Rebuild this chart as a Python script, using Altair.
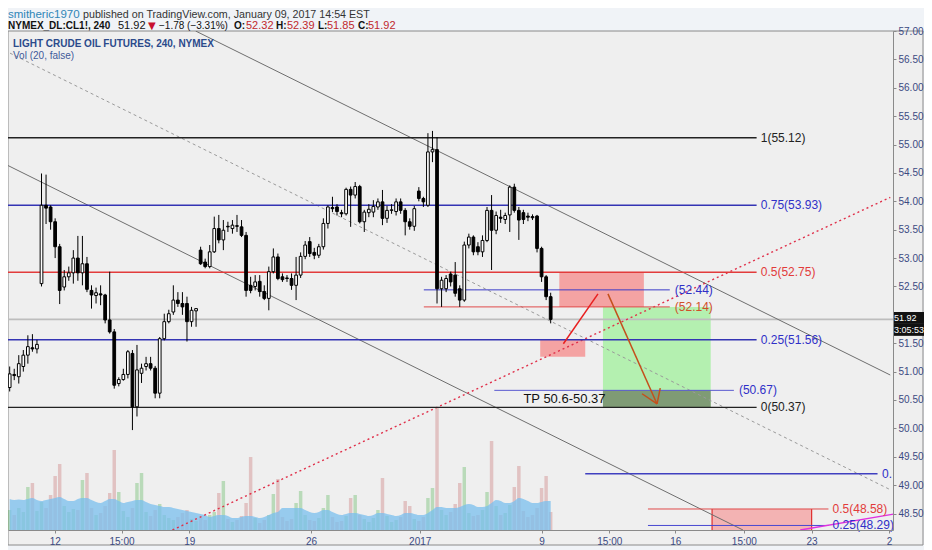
import altair as alt
import pandas as pd

# ---------------- data ----------------
opens = [50.72, 50.95, 50.91, 51.09, 51.29, 51.42, 51.40, 52.55, 53.93, 53.90,
         53.64, 53.20, 52.49, 52.67, 52.74, 53.00, 52.74, 52.90, 52.43, 52.34,
         52.37, 52.35, 51.91, 51.70, 50.79, 50.86, 50.95, 51.32, 50.38, 50.97,
         51.09, 51.14, 51.06, 50.62, 51.58, 51.88, 52.05, 52.26, 52.20, 52.20,
         51.88, 52.07, 53.14, 52.93, 52.85, 53.11, 53.52, 53.32, 53.56, 53.52,
         53.57, 53.55, 53.40, 52.52, 52.50, 52.59, 52.41, 52.29, 52.76, 53.02,
         52.67, 52.65, 52.64, 52.52, 52.70, 53.03, 53.29, 53.10, 53.05, 53.20,
         53.61, 53.89, 53.90, 53.80, 53.78, 54.21, 54.11, 54.26, 53.64, 53.80,
         53.81, 53.90, 53.99, 53.70, 53.84, 53.82, 53.99, 53.84, 53.64, 53.56,
         54.18, 54.05, 53.93, 54.87, 54.91, 52.46, 52.46, 52.72, 52.70, 52.46,
         52.26, 53.23, 53.37, 53.20, 53.11, 53.31, 53.84, 53.49, 53.72, 53.68,
         53.76, 54.25, 53.84, 53.80, 53.74, 53.73, 53.74, 53.17, 52.67, 52.32]
highs = [51.09, 51.05, 51.29, 51.38, 51.64, 51.66, 51.56, 54.49, 54.47, 53.93,
         53.70, 53.25, 52.79, 52.85, 53.14, 53.39, 53.39, 53.02, 52.52, 52.48,
         52.52, 52.37, 52.76, 51.75, 50.90, 51.05, 51.38, 51.38, 51.47, 51.14,
         51.26, 51.26, 51.10, 51.61, 52.02, 52.09, 52.52, 52.40, 52.40, 52.32,
         52.14, 52.11, 53.20, 52.99, 53.23, 53.73, 53.76, 53.67, 53.64, 53.67,
         53.76, 53.67, 53.46, 52.67, 52.70, 52.70, 52.52, 52.85, 53.17, 53.08,
         52.73, 52.70, 52.73, 53.02, 53.10, 53.30, 53.37, 53.18, 53.25, 53.70,
         53.93, 54.08, 53.95, 53.85, 54.24, 54.26, 54.34, 54.29, 53.85, 53.95,
         54.02, 54.05, 54.20, 53.92, 53.95, 54.05, 54.05, 53.88, 53.70, 53.92,
         54.25, 54.08, 55.20, 55.24, 55.13, 52.67, 52.70, 52.76, 52.93, 52.52,
         53.29, 53.43, 53.40, 53.28, 53.40, 53.90, 54.11, 53.82, 53.85, 53.80,
         54.28, 54.31, 53.90, 53.85, 53.80, 53.77, 53.76, 53.20, 52.70, 52.39]
lows = [50.65, 50.85, 50.79, 51.00, 51.14, 51.35, 51.32, 52.50, 53.60, 53.50,
        53.00, 52.19, 52.43, 52.60, 52.55, 52.60, 52.52, 52.40, 52.11, 52.20,
        52.17, 51.85, 51.67, 50.70, 50.74, 50.84, 50.88, 49.97, 50.21, 50.80,
        51.02, 51.02, 50.53, 50.53, 51.55, 51.85, 52.00, 52.14, 52.00, 51.53,
        51.79, 51.79, 52.88, 52.82, 52.82, 53.09, 53.26, 53.14, 53.46, 53.43,
        53.46, 53.37, 52.32, 52.38, 52.43, 52.32, 52.26, 52.08, 52.73, 52.61,
        52.58, 52.58, 52.44, 52.26, 52.65, 52.98, 53.02, 52.98, 53.00, 53.15,
        53.52, 53.81, 53.75, 53.72, 53.75, 53.55, 54.05, 53.61, 53.46, 53.72,
        53.72, 53.85, 53.58, 53.62, 53.78, 53.75, 53.78, 53.40, 53.50, 53.48,
        54.00, 53.90, 53.90, 54.69, 52.20, 52.14, 52.40, 52.50, 52.32, 52.14,
        52.23, 53.17, 53.05, 53.05, 53.02, 53.28, 52.79, 53.42, 53.62, 53.60,
        53.46, 53.80, 53.32, 53.60, 53.65, 53.67, 53.10, 52.58, 52.26, 51.85]
closes = [50.96, 50.93, 51.14, 51.29, 51.44, 51.40, 51.48, 53.93, 53.88, 53.64,
          53.20, 52.43, 52.67, 52.74, 53.00, 52.74, 52.90, 52.45, 52.35, 52.39,
          52.35, 51.91, 51.70, 50.76, 50.86, 50.95, 51.35, 50.38, 51.03, 51.06,
          51.14, 51.06, 50.62, 51.58, 51.88, 52.02, 52.26, 52.20, 52.14, 51.88,
          52.08, 52.11, 52.90, 52.85, 53.11, 53.52, 53.32, 53.49, 53.55, 53.58,
          53.56, 53.40, 52.43, 52.43, 52.58, 52.41, 52.29, 52.76, 53.02, 52.64,
          52.62, 52.64, 52.52, 52.70, 53.03, 53.23, 53.08, 53.05, 53.20, 53.61,
          53.90, 53.87, 53.82, 53.78, 54.21, 54.11, 54.26, 53.64, 53.81, 53.86,
          53.91, 53.99, 53.70, 53.84, 53.85, 53.99, 53.84, 53.64, 53.56, 53.87,
          54.05, 53.99, 54.87, 54.91, 52.46, 52.61, 52.64, 52.58, 52.38, 52.26,
          53.23, 53.37, 53.11, 53.11, 53.31, 53.84, 53.49, 53.75, 53.70, 53.75,
          54.25, 53.84, 53.67, 53.68, 53.72, 53.71, 53.17, 52.67, 52.32, 51.92]
volumes = [40, 30, 44, 36, 86, 94, 38, 56, 44, 70,
           108, 132, 48, 36, 42, 40, 100, 114, 44, 30,
           34, 48, 74, 160, 76, 38, 26, 44, 94, 114,
           36, 28, 40, 52, 30, 24, 20, 26, 34, 40,
           22, 18, 24, 20, 30, 36, 74, 98, 22, 16,
           20, 28, 54, 146, 24, 14, 20, 30, 72, 102,
           26, 18, 22, 54, 78, 30, 20, 18, 24, 44,
           70, 26, 16, 18, 28, 64, 70, 30, 22, 16,
           24, 40, 104, 28, 16, 20, 26, 58, 48, 22,
           18, 26, 64, 84, 246, 40, 30, 36, 52, 94,
           126, 34, 28, 30, 40, 76, 178, 48, 30, 34,
           50, 86, 128, 38, 26, 30, 44, 84, 108, 36]
vol_ma = [62, 60, 61, 60, 62, 64, 60, 58, 60, 62,
          64, 66, 62, 58, 58, 62, 64, 64, 60, 56,
          54, 58, 62, 62, 58, 54, 56, 58, 60, 60,
          56, 52, 50, 48, 46, 46, 44, 42, 40, 38,
          36, 34, 32, 30, 26, 28, 30, 30, 28, 24,
          24, 26, 28, 28, 26, 24, 26, 30, 34, 36,
          44, 44, 44, 44, 44, 40, 36, 34, 36, 40,
          40, 36, 32, 30, 32, 34, 34, 32, 30, 28,
          30, 34, 34, 32, 30, 28, 30, 34, 34, 32,
          30, 30, 34, 40, 46, 46, 44, 44, 44, 46,
          50, 52, 50, 46, 46, 48, 54, 60, 58, 54,
          54, 58, 64, 62, 58, 54, 54, 56, 58, 58]

price_ticks = [48.5, 49.0, 49.5, 50.0, 50.5, 51.0, 51.5, 52.5, 53.0,
               53.5, 54.0, 54.5, 55.0, 55.5, 56.0, 56.5, 57.0]
time_tick_pos = [9.93, 24.6, 39.5, 66.3, 90.2, 117.0, 131.9, 146.4, 161.5, 176.4, 193.4]
time_tick_labels = ["12", "15:00", "19", "26", "2017", "9", "15:00", "16", "15:00", "23", "2"]

# fibonacci retracement (bar index range, levels)
fib_levels = [55.12, 53.93, 52.75, 51.56, 50.37]
fib_names = ["1", "0.75", "0.5", "0.25", "0"]
fib_x = [-0.37, 164.3]
fib_label_x = 165.2

small_fib_levels = [52.44, 52.14]
small_fib_x = [91.1, 145.2]
small_fib_label_x = 146.3

tp_level = 50.67
tp_x = [106.6, 159.3]
tp_label_x = 160.4

low_fib_levels = [49.20, 48.58, 48.29]
low_fib_names = ["0.", "0.5(48.58)", "0.25(48.29)"]
low_fib_x = [[126.6, 190.9], [140.4, 180.1], [140.4, 180.1]]
low_fib_label_x = [191.9, 181.0, 181.0]

# trend lines: (x1, p1, x2, p2)
channel_lines = [(40.9, 57.0, 193.7, 50.94), (-0.37, 54.63, 161.3, 48.21)]
mid_dotted = [(0.07, 56.61, 193.7, 48.92)]
red_dotted = [(35.8, 48.21, 193.7, 54.07)]
red_arrow = [(121.8, 51.49, 129.4, 52.37)]
brown_arrow = [(131.6, 52.37, 142.4, 50.43), (142.4, 50.43, 139.1, 50.61), (142.4, 50.43, 143.1, 50.71)]
magenta_line = [(173.9, 48.21, 194.4, 48.49)]

# boxes: (x1, x2, p1, p2)
red_boxes = [(120.9, 139.5, 52.14, 52.75), (116.7, 126.6, 51.26, 51.56)]
green_box = [(130.5, 154.2, 50.37, 52.14)]
target_band = [(130.5, 154.2, 50.37, 50.67)]
low_red_box = [(154.5, 176.4, 48.21, 48.58)]

tp_text = "TP 50.6-50.37"
tp_text_pos = (113.0, 50.52)
countdown = "3:05:53"

# ---------------- layout / style ----------------
W, H = 885, 499
X_DOMAIN = [-0.37, 194.3]
Y_DOMAIN = [48.21, 57.0]
FONT = "Liberation Sans"
AXIS_C = "#3b4a82"
BLUE = "#3434b4"
RED = "#e23b3b"
DARK = "#222222"
GRID_C = "#8a8a8a"

xscale = alt.Scale(domain=X_DOMAIN, nice=False, zero=False)
yscale = alt.Scale(domain=Y_DOMAIN, nice=False, zero=False)
vscale = alt.Scale(domain=[0, 998], nice=False, zero=True)

label_expr = ("[" + ",".join("'%s'" % l for l in time_tick_labels) + "][indexof(["
              + ",".join(str(v) for v in time_tick_pos) + "], datum.value)]")

xaxis = alt.Axis(values=time_tick_pos, labelExpr=label_expr, title=None, grid=False,
                 domainColor=GRID_C, tickColor=GRID_C, tickSize=3, labelColor=AXIS_C,
                 labelFontSize=10, labelFont=FONT, labelPadding=3, zindex=1,
                 labelFlush=False, labelOverlap=False)
yaxis = alt.Axis(orient="right", values=price_ticks, format=".2f", title=None, grid=False,
                 domainColor=GRID_C, tickColor=GRID_C, tickSize=3, labelColor=AXIS_C,
                 labelFontSize=10, labelFont=FONT, labelPadding=2, zindex=1,
                 labelFlush=False, labelOverlap=False)


def X(f):
    return alt.X(f, type="quantitative", scale=xscale, axis=xaxis)


def Y(f):
    return alt.Y(f, type="quantitative", scale=yscale, axis=yaxis)


candles = pd.DataFrame({"i": list(range(len(closes))), "open": opens, "high": highs,
                        "low": lows, "close": closes, "vol": volumes, "ma": vol_ma})


def seg_chart(segs, color, width=1.0, dash=None, clip=True):
    df = pd.DataFrame(segs, columns=["x1", "y1", "x2", "y2"])
    kw = dict(color=color, strokeWidth=width, clip=clip)
    if dash:
        kw["strokeDash"] = dash
    return alt.Chart(df).mark_rule(**kw).encode(x=X("x1"), y=Y("y1"), x2="x2", y2="y2")


def hline_chart(levels, xr, color, width=1.0):
    df = pd.DataFrame({"p": levels, "x1": [xr[0]] * len(levels), "x2": [xr[1]] * len(levels)})
    return alt.Chart(df).mark_rule(color=color, strokeWidth=width).encode(x=X("x1"), x2="x2", y=Y("p"))


def box_chart(boxes, color, opacity=1.0):
    df = pd.DataFrame(boxes, columns=["x1", "x2", "p1", "p2"])
    return alt.Chart(df).mark_rect(color=color, opacity=opacity).encode(
        x=X("x1"), x2="x2", y=Y("p1"), y2="p2")


def label_chart(xs, ps, texts, colors, size=12, weight="normal"):
    df = pd.DataFrame({"x": xs, "p": ps, "t": texts, "c": colors})
    return alt.Chart(df).mark_text(align="left", baseline="middle", font=FONT,
                                   fontSize=size, fontWeight=weight).encode(
        x=X("x"), y=Y("p"), text="t:N", color=alt.Color("c:N", scale=None))


one = pd.DataFrame({"a": [0]})


def px_text(t, x, y, color, size=11, weight="normal", font=FONT):
    return alt.Chart(one).mark_text(align="left", baseline="middle", font=font,
                                    fontSize=size, fontWeight=weight, color=color,
                                    text=t).encode(x=alt.value(x), y=alt.value(y))


# outer frame incl. axis area
frame = alt.Chart(one).mark_rect(fill="#efefef", stroke=GRID_C, strokeWidth=1).encode(
    x=alt.value(0), x2=alt.value(W + 30), y=alt.value(0), y2=alt.value(H + 15))

# ---------------- volume pane ----------------
vol_bars = alt.Chart(candles).transform_calculate(
    xa="datum.i - 0.38", xb="datum.i + 0.38").mark_rect(opacity=0.3).encode(
    x=X("xa"), x2="xb", y=alt.Y("vol:Q", scale=vscale, axis=None), y2=alt.datum(0),
    fill=alt.condition("datum.close >= datum.open", alt.value("#3aa83a"), alt.value("#c05a5a")))
vol_area = alt.Chart(candles).mark_area(color="#79bfee", opacity=0.75, interpolate="monotone").encode(
    x=X("i"), y=alt.Y("ma:Q", scale=vscale, axis=None))
vol_group = alt.layer(vol_bars, vol_area)

# ---------------- price pane ----------------
layers = []
layers.append(box_chart(green_box, "#b4f0b0"))
layers.append(box_chart(target_band, "#7f9b75"))
layers.append(box_chart(red_boxes, "#f4a3a3"))
layers.append(box_chart(low_red_box, "#f3b3b3"))
layers.append(seg_chart([(b[0], b[2], b[0], b[3]) for b in low_red_box] +
                        [(b[1], b[2], b[1], b[3]) for b in low_red_box], "#e03030", 1.2))

# current price line
layers.append(hline_chart([closes[-1]], X_DOMAIN, "#bdbdbd", 1.6))

# trend lines
layers.append(seg_chart(channel_lines, "#6e6e6e", 1.0))
layers.append(seg_chart(mid_dotted, "#9a9a9a", 1.0, dash=[3, 3]))
layers.append(seg_chart(red_dotted, "#e0304a", 1.4, dash=[2, 3]))

# fib lines
fib_colors = [DARK, BLUE, RED, BLUE, DARK]
for lvl, col in zip(fib_levels, fib_colors):
    layers.append(hline_chart([lvl], fib_x, col, 1.4))
layers.append(hline_chart([small_fib_levels[0]], small_fib_x, "#3a3ac8", 1.0))
layers.append(hline_chart([small_fib_levels[1]], small_fib_x, "#e04a4a", 1.0))
layers.append(hline_chart([tp_level], tp_x, "#5a5ad0", 1.0))
layers.append(hline_chart([low_fib_levels[0]], low_fib_x[0], "#4040c0", 1.6))
layers.append(hline_chart([low_fib_levels[1]], low_fib_x[1], "#e04a4a", 1.0))
layers.append(hline_chart([low_fib_levels[2]], low_fib_x[2], "#4848d0", 1.0))
layers.append(seg_chart(magenta_line, "#e030e0", 1.4, clip=False))

# arrows
layers.append(seg_chart(red_arrow, "#e82020", 1.5))
layers.append(seg_chart(brown_arrow, "#c4501c", 1.5))

# candles
layers.append(alt.Chart(candles).mark_rule(color="black", strokeWidth=1).encode(
    x=X("i"), y=Y("low"), y2="high"))
layers.append(alt.Chart(candles).transform_calculate(
    xa="datum.i - 0.3", xb="datum.i + 0.3").mark_rect(stroke="black", strokeWidth=1).encode(
    x=X("xa"), x2="xb", y=Y("open"), y2="close",
    fill=alt.condition("datum.close >= datum.open", alt.value("white"), alt.value("black"))))

# labels
layers.append(label_chart([fib_label_x] * 5, fib_levels,
                          ["%s(%.2f)" % (n, v) for n, v in zip(fib_names, fib_levels)],
                          [DARK, "#3030c8", RED, "#3030c8", DARK]))
layers.append(label_chart([small_fib_label_x] * 2, small_fib_levels,
                          ["(%.2f)" % v for v in small_fib_levels], ["#3030c8", "#d0502a"]))
layers.append(label_chart([tp_label_x], [tp_level], ["(%.2f)" % tp_level], ["#3030c8"]))
layers.append(label_chart(low_fib_label_x, low_fib_levels, low_fib_names,
                          ["#3030c8", RED, "#3030c8"]))
layers.append(label_chart([tp_text_pos[0]], [tp_text_pos[1]], [tp_text], ["#111111"], size=13))

# last price tag on the axis
tag = pd.DataFrame({"top": [closes[-1] + 0.13, closes[-1] - 0.08],
                    "bot": [closes[-1] - 0.08, closes[-1] - 0.29],
                    "t": ["%.2f" % closes[-1], countdown]})
tag = tag.assign(mid=(tag["top"] + tag["bot"]) / 2)
layers.append(alt.Chart(tag).mark_rect(color="#111111").encode(
    x=alt.value(W), x2=alt.value(W + 31), y=Y("top"), y2="bot"))
layers.append(alt.Chart(tag).mark_text(align="left", baseline="middle", font=FONT,
                                       fontSize=9, color="white").encode(
    x=alt.value(W + 1), y=Y("mid"), text="t:N"))

price_group = alt.layer(*layers)

# ---------------- header texts ----------------
L1, L2 = -16, -5.5
hdr = [
    px_text("smitheric1970", 0, L1, "#2f86b8", 11.5),
    px_text("published on TradingView.com, January 09, 2017 14:54 EST", 75, L1, "#333333", 10.7),
    px_text("NYMEX_DL:CL1!, 240", 0, L2, "#111111", 10, "bold"),
    px_text("51.92", 110, L2, "#111111", 11),
    px_text("\u25bc", 140, L2, "#c8102e", 10, font="DejaVu Sans"),
    px_text("\u22121.78 (\u22123.31%)", 151, L2, "#111111", 10),
    px_text("O:", 226, L2, "#111111", 10, "bold"),
    px_text("52.32", 238, L2, "#c0282d", 11),
    px_text("H:", 268, L2, "#111111", 10, "bold"),
    px_text("52.39", 279, L2, "#c0282d", 11),
    px_text("L:", 310, L2, "#111111", 10, "bold"),
    px_text("51.85", 319, L2, "#c0282d", 11),
    px_text("C:", 350, L2, "#111111", 10, "bold"),
    px_text("51.92", 360, L2, "#c0282d", 11),
    px_text("LIGHT CRUDE OIL FUTURES, 240, NYMEX", 5, 13, "#2b4a8b", 10, "bold"),
    px_text("Vol (20, false)", 5, 25, "#3f5a9a", 10),
]

chart = alt.layer(frame, vol_group, price_group, *hdr).resolve_scale(y="independent").properties(
    width=W, height=H,
    autosize=alt.AutoSizeParams(type="none"),
    padding={"top": 23, "left": 0, "right": 31, "bottom": 20},
).configure(background="#f0f3f7").configure_view(stroke=GRID_C, strokeWidth=1)

chart.save("out.html", embed_options={"renderer": "svg", "actions": False})
